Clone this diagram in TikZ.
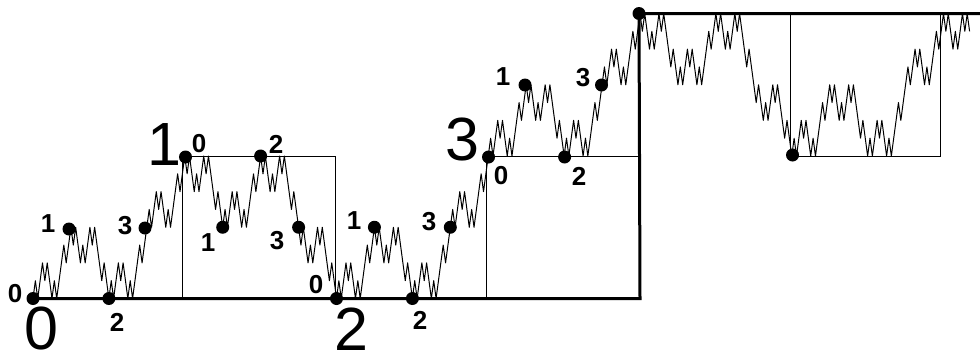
\documentclass[tikz,border=0pt]{standalone}
\usepackage{fontspec}
\setmainfont{Liberation Sans}
\begin{document}
\begin{tikzpicture}[x=1pt,y=-1pt,
  curve/.style={line width=1pt, line join=round},
  frameline/.style={line width=3pt},
  guide/.style={line width=0.9pt},
  dot/.style={circle, fill=black, inner sep=0pt, minimum size=13pt},
  small/.style={font=\fontsize{26}{26}\selectfont\bfseries, inner sep=0pt},
  big/.style={font=\fontsize{61}{61}\selectfont, inner sep=0pt}]
\useasboundingbox (0,0) rectangle (980,356);
% fractal curve, 4 levels
\gdef\mypath{(33,298.5)}
\foreach \i in {1,...,395}{%
  \ifnum\i<256 \pgfmathtruncatemacro\j{\i}\else\pgfmathtruncatemacro\j{\i-256}\fi
  \pgfmathtruncatemacro\da{div(\j,64)}%
  \pgfmathtruncatemacro\db{mod(div(\j,16),4)}%
  \pgfmathtruncatemacro\dc{mod(div(\j,4),4)}%
  \pgfmathtruncatemacro\dd{mod(\j,4)}%
  \ifnum\da=1 \def\sa{-1}\else\def\sa{1}\fi
  \ifnum\db=1 \def\sb{-1}\else\def\sb{1}\fi
  \ifnum\dc=1 \def\sc{-1}\else\def\sc{1}\fi
  \pgfmathtruncatemacro\G{8*mod(\da,2)+4*\sa*mod(\db,2)+2*\sa*\sb*mod(\dc,2)+\sa*\sb*\sc*mod(\dd,2)}%
  \ifnum\i<256 \else\pgfmathtruncatemacro\G{16-\G}\fi
  \pgfmathsetmacro\X{33+\i*2.37109375}%
  \pgfmathsetmacro\Y{298.5-17.8125*\G}%
  \xdef\mypath{\mypath -- (\X,\Y)}%
}
\edef\drawcurve{\noexpand\draw[curve] \mypath;}
\drawcurve
% guide lines
\draw[guide] (182,298.5) -- (182,156) -- (335,156) -- (335,298.5);
\draw[guide] (486,298.5) -- (486,156) -- (640,156);
\draw[guide] (790,13.5) -- (790,156) -- (940,156) -- (940,13.5);
% dots
\node[dot] (p0) at (33,298.5) {};
\node[dot] (p16) at (69,229) {};
\node[dot] (p32) at (108.9,298.5) {};
\node[dot] (p48) at (145,228) {};
\node[dot] (p64) at (185.5,157) {};
\node[dot] (p80) at (222.7,227.25) {};
\node[dot] (p96) at (260.6,156) {};
\node[dot] (p112) at (298.6,227.25) {};
\node[dot] (p128) at (336.5,298.5) {};
\node[dot] (p144) at (374.4,227.25) {};
\node[dot] (p160) at (412.4,298.5) {};
\node[dot] (p176) at (450.3,227.25) {};
\node[dot] (p192) at (488.5,157) {};
\node[dot] (p208) at (525,85) {};
\node[dot] (p224) at (564.6,157) {};
\node[dot] (p240) at (601.5,85) {};
\node[dot] (p256) at (639,13.5) {};
\node[dot] (p320) at (792.5,155) {};
\coordinate (br) at (640,298.5);
\coordinate (tr) at (980,13.5);
% frame
\draw[frameline] (p0.center) -- (br) -- (p256.center) -- (tr);
% small labels
\node[small] (a0) at (15,294) {0};
\node[small] (a1) at (48,224) {1};
\node[small] (a2) at (117,322) {2};
\node[small] (a3) at (125,226) {3};
\node[small] (b0) at (199,144) {0};
\node[small] (b1) at (208,243) {1};
\node[small] (b2) at (276,144) {2};
\node[small] (b3) at (277,241) {3};
\node[small] (c0) at (316,285) {0};
\node[small] (c1) at (354,221) {1};
\node[small] (c2) at (420,320) {2};
\node[small] (c3) at (429,222) {3};
\node[small] (d0) at (501,176) {0};
\node[small] (d1) at (503,77) {1};
\node[small] (d2) at (579,176) {2};
\node[small] (d3) at (583,78) {3};
% big labels
\node[big] (B0) at (41,328) {0};
\node[big] (B1) at (164,145) {1};
\node[big] (B2) at (351,329) {2};
\node[big] (B3) at (462,139) {3};
\end{tikzpicture}
\end{document}
